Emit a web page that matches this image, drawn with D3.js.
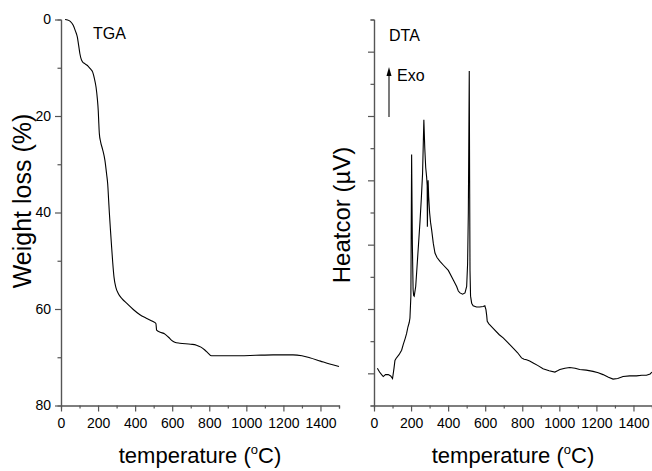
<!DOCTYPE html>
<html>
<head>
<meta charset="utf-8">
<script src="https://cdn.jsdelivr.net/npm/d3@7"></script>
<style>
  body { margin: 0; background: #fff; }
  svg { display: block; font-family: "Liberation Sans", Arial, sans-serif; }
</style>
</head>
<body>
<div id="chart"></div>
<script>
// TGA: temperature (C) vs weight loss (%)
const tgaTemp = [22, 35, 50, 66, 78, 88, 95, 102, 109, 115, 130, 147, 160, 171, 180, 189, 196, 201, 204, 207,
    214, 225, 237, 246, 252, 257, 261, 267, 273, 279, 286, 296, 309, 330, 354, 390, 426, 460, 497, 512,
    516, 535, 561, 579, 597, 614, 641, 700, 731, 755, 776, 795, 812, 900, 965, 1050, 1144, 1252, 1300, 1342,
    1400, 1450, 1500];
const tgaLoss = [0, 0.1, 0.4, 1.2, 2.4, 3.6, 5.3, 7.1, 8.2, 8.7, 9.2, 9.7, 10.3, 10.9, 12.2, 14.0, 16.4, 18.9, 21.5, 23.7,
    25.4, 27.0, 29.2, 32.0, 34.1, 37.4, 40.1, 43.7, 47.1, 50.3, 53.4, 55.5, 56.8, 57.9, 58.8, 60.1, 61.2, 61.9, 62.6, 63.0,
    64.4, 64.8, 65.2, 65.8, 66.5, 66.9, 67.1, 67.3, 67.5, 67.9, 68.5, 69.2, 69.7, 69.7, 69.7, 69.6, 69.5, 69.5, 69.7, 70.1,
    70.8, 71.4, 71.9];

// DTA: temperature (C) vs heat signal (arbitrary units)
const dtaTemp = [18, 30, 41, 50, 62, 77, 90, 100, 108, 113, 119, 135, 149, 158, 168, 176, 183, 190, 194, 199,
    203, 207, 211, 214, 217, 225, 232, 240, 248, 255, 262, 266, 269, 274, 279, 284, 287, 288, 290, 292,
    295, 300, 305, 311, 320, 329, 340, 356, 375, 401, 428, 446, 455, 464, 478, 491, 500, 505, 509, 512,
    514, 516, 518, 521, 527, 535, 553, 570, 589, 598, 604, 608, 611, 620, 643, 676, 697, 725, 751, 775,
    796, 810, 823, 840, 859, 885, 912, 945, 976, 990, 1003, 1030, 1056, 1085, 1110, 1145, 1182, 1210, 1236, 1265,
    1290, 1315, 1344, 1380, 1416, 1445, 1470, 1490, 1500];
const dtaVal = [0.8, 0.2, -0.2, -0.5, -0.2, -0.2, -0.4, -0.8, 0.8, 2.0, 2.3, 2.9, 3.6, 4.5, 5.4, 6.2, 7.2, 7.9, 8.6, 12,
    34, 20, 13, 12.1, 12.0, 13.5, 16.5, 20, 23.5, 27, 31, 35.8, 39.4, 35, 32, 30.5, 29.2, 22.8, 27, 30,
    27.5, 25, 23.5, 22.3, 20.2, 18.7, 18.0, 17.4, 16.8, 16.0, 14.5, 13.5, 12.8, 12.5, 12.3, 12.5, 13.5, 17, 25, 38,
    47, 30, 16, 12, 10.9, 10.5, 10.3, 10.3, 10.4, 10.5, 9.9, 9.0, 8.1, 7.7, 7.0, 6.0, 5.5, 4.7, 3.9, 3.2,
    2.4, 2.2, 2.1, 1.9, 1.6, 1.2, 0.7, 0.4, 0.2, 0.4, 0.6, 0.8, 0.9, 0.8, 0.6, 0.5, 0.3, 0.1, -0.2, -0.6,
    -0.9, -0.8, -0.5, -0.4, -0.4, -0.3, -0.3, -0.1, 0.2];

const tempTicks = [0, 200, 400, 600, 800, 1000, 1200, 1400];
const tempMinor = [100, 300, 500, 700, 900, 1100, 1300, 1500];
const lossTicks = [0, 20, 40, 60, 80];
const lossMinor = [10, 30, 50, 70];
const dtaTicks = [0, 10, 20, 30, 40, 50];
const dtaMinor = [-5, 5, 15, 25, 35, 45, 55];

const W = 652, H = 471;
const plotTop = 19.5, plotBottom = 405.5;
const axisColor = "#555";

const svg = d3.select("#chart").append("svg")
    .attr("width", W)
    .attr("height", H);

function drawPanel(x0, x1, yScale, major, minor, showLabels) {
    let xScale = d3.scaleLinear().domain([0, 1500]).range([x0, x1]);

    // bottom axis: minor ticks first, then labelled majors
    let xMinor = svg.append("g")
        .attr("transform", "translate(0," + plotBottom + ")")
        .call(d3.axisBottom(xScale).tickValues(tempMinor).tickSize(3).tickFormat(""));
    let xMajor = svg.append("g")
        .attr("transform", "translate(0," + plotBottom + ")")
        .call(d3.axisBottom(xScale).tickValues(tempTicks).tickSize(6).tickPadding(7).tickSizeOuter(0)
            .tickFormat(d3.format("d")));

    let yMinor = svg.append("g")
        .attr("transform", "translate(" + x0 + ",0)")
        .call(d3.axisLeft(yScale).tickValues(minor).tickSize(3.5).tickFormat(""));
    let yMajor = svg.append("g")
        .attr("transform", "translate(" + x0 + ",0)")
        .call(d3.axisLeft(yScale).tickValues(major).tickSize(6).tickPadding(4).tickSizeOuter(0)
            .tickFormat(showLabels ? d3.format("d") : ""));

    [xMinor, xMajor, yMinor, yMajor].forEach(g => {
        g.selectAll("path").attr("stroke", axisColor).attr("stroke-width", 1.2);
        g.selectAll("line").attr("stroke", axisColor).attr("stroke-width", 1.2);
        g.selectAll("text").attr("fill", "#000").style("font-size", "14px")
            .style("font-family", "'Liberation Sans', Arial, sans-serif");
    });

    // temperature title with superscript degree
    let t = svg.append("text")
        .attr("x", (x0 + x1) / 2)
        .attr("y", 463)
        .attr("text-anchor", "middle")
        .style("font-size", "22px");
    t.append("tspan").text("temperature (");
    t.append("tspan").attr("dy", -9).style("font-size", "13px").text("o");
    t.append("tspan").attr("dy", 9).text("C)");

    return xScale;
}

// ---- TGA panel
let yLoss = d3.scaleLinear().domain([0, 80]).range([plotTop, plotBottom]);
let xLeft = drawPanel(61, 339, yLoss, lossTicks, lossMinor, true);

let tgaData = tgaTemp.map((d, i) => ({temp: d, val: tgaLoss[i]}));
let tgaLine = d3.line()
    .x(d => xLeft(d.temp))
    .y(d => yLoss(d.val))
    .curve(d3.curveMonotoneX);
svg.append("path")
    .attr("d", tgaLine(tgaData))
    .style("fill", "none")
    .style("stroke", "black")
    .style("stroke-width", 1.1);

svg.append("text")
    .attr("transform", "translate(31," + 201 + ") rotate(-90)")
    .attr("text-anchor", "middle")
    .style("font-size", "25px")
    .text("Weight loss (%)");

svg.append("text").attr("x", 93).attr("y", 39).style("font-size", "16px").text("TGA");

// ---- DTA panel
let yDta = d3.scaleLinear().domain([-5, 55]).range([plotBottom, plotTop]);
let xRight = drawPanel(374, 652, yDta, dtaTicks, dtaMinor, false);

let dtaData = dtaTemp.map((d, i) => ({temp: d, val: dtaVal[i]}));
let dtaLine = d3.line()
    .x(d => xRight(d.temp))
    .y(d => yDta(d.val));
svg.append("path")
    .attr("d", dtaLine(dtaData))
    .style("fill", "none")
    .style("stroke", "black")
    .style("stroke-width", 1.1);

svg.append("text")
    .attr("transform", "translate(350," + 215 + ") rotate(-90)")
    .attr("text-anchor", "middle")
    .style("font-size", "24px")
    .text("Heatcor (\u00b5V)");

svg.append("text").attr("x", 389).attr("y", 41).style("font-size", "16px").text("DTA");

// Exo arrow
svg.append("line")
    .attr("x1", 389).attr("y1", 117).attr("x2", 389).attr("y2", 74)
    .attr("stroke", "#222").attr("stroke-width", 1.2);
svg.append("path")
    .attr("d", "M386.5,76 L389,67 L391.5,76 Z")
    .attr("fill", "#000");
svg.append("text").attr("x", 397).attr("y", 81).style("font-size", "16px").text("Exo");
</script>
</body>
</html>
